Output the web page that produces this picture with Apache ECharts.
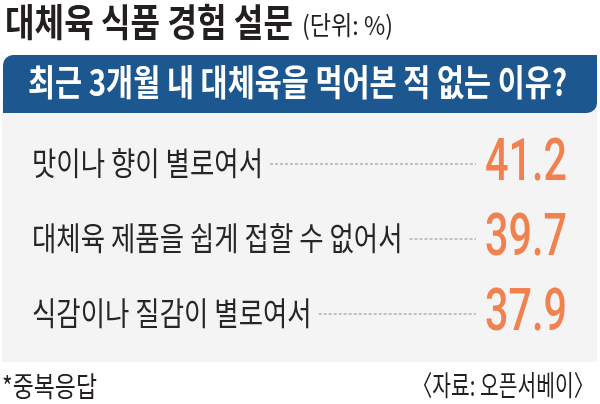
<!DOCTYPE html>
<html>
<head>
<meta charset="utf-8">
<script src="https://cdn.jsdelivr.net/npm/echarts@6/dist/echarts.min.js"></script>
<style>
  html, body { margin: 0; padding: 0; background: #fff; }
  #chart { width: 600px; height: 404px; }
</style>
</head>
<body>
<div id="chart"></div>
<script>
// 설문 데이터
const reasons = ['맛이나 향이 별로여서', '대체육 제품을 쉽게 접할 수 없어서', '식감이나 질감이 별로여서'];
const shares = [41.2, 39.7, 37.9];

const KR = "'Noto Sans CJK KR', 'Noto Sans', sans-serif";
const NUM = "Roboto, 'Liberation Sans', sans-serif";

// 글자 폭 측정용
const measureCtx = document.createElement('canvas').getContext('2d');
function textWidth(text, font) {
    measureCtx.font = font;
    return measureCtx.measureText(text).width;
}
// 원본처럼 좁은 글꼴 느낌을 내기 위해 가로 폭을 맞춘다
function fitScale(text, font, width) {
    return width / textWidth(text, font);
}

const titleFont = 'bold 38px ' + KR;
const unitFont = '26px ' + KR;
const bannerFont = 'bold 36px ' + KR;
const labelFont = '32px ' + KR;
const valueFont = '500 59px ' + NUM;
const footFont = '28px ' + KR;
// 첫 줄 폭 기준으로 가로 비율을 정해 모든 줄에 쓴다
const LABEL_SCALE = fitScale(reasons[0], labelFont, 231);
const VALUE_SCALE = 0.7;

function txt(text, font, x, y, fill, scale, align) {
    return {
        type: 'text',
        x: x, y: y,
        scaleX: scale, originX: 0, originY: 0,
        silent: true,
        style: {
            text: text, font: font, fill: fill,
            align: align || 'left', verticalAlign: 'middle',
            textAlign: align || 'left', textVerticalAlign: 'middle'
        }
    };
}

var myChart = echarts.init(document.getElementById('chart'));

var option = {
    backgroundColor: '#fff',
    animation: false,
    grid: { left: 32, right: 33, top: 125.5, height: 225 },
    xAxis: { type: 'value', min: 0, max: 50, show: false },
    yAxis: { type: 'category', data: reasons, inverse: true, show: false },
    graphic: [
        // 회색 바탕
        { type: 'rect', z: 0, shape: { x: 2, y: 100, width: 595, height: 262 }, style: { fill: '#f4f4f4' } },
        // 파란 띠
        { type: 'rect', z: 1, shape: { x: 3, y: 55, width: 594, height: 58, r: [10, 0, 10, 0] }, style: { fill: '#1c588f' } },
        Object.assign(txt('대체육 식품 경험 설문', titleFont, 5, 22, '#231f20',
            fitScale('대체육 식품 경험 설문', titleFont, 288)), { z: 2 }),
        Object.assign(txt('(단위: %)', unitFont, 302, 25, '#231f20',
            fitScale('(단위: %)', unitFont, 91)), { z: 2 }),
        Object.assign(txt('최근 3개월 내 대체육을 먹어본 적 없는 이유?', bannerFont, 28, 82, '#fff',
            fitScale('최근 3개월 내 대체육을 먹어본 적 없는 이유?', bannerFont, 539)), { z: 2 }),
        Object.assign(txt('*중복응답', footFont, 2, 386, '#231f20',
            fitScale('*중복응답', footFont, 95)), { z: 2 }),
        Object.assign(txt('〈자료: 오픈서베이〉', footFont, 594, 385, '#231f20',
            fitScale('〈자료: 오픈서베이〉', footFont, 182), 'right'), { z: 2 })
    ],
    series: [{
        type: 'custom',
        coordinateSystem: 'cartesian2d',
        data: shares.map(function (v, i) { return [v, i]; }),
        encode: { x: 0, y: 1 },
        z: 5,
        renderItem: function (params, api) {
            var idx = api.value(1);
            var y = api.coord([0, idx])[1];
            var left = params.coordSys.x;
            var right = params.coordSys.x + params.coordSys.width;
            var label = reasons[idx];
            var labelEnd = left + textWidth(label, labelFont) * LABEL_SCALE;
            return {
                type: 'group',
                children: [
                    txt(label, labelFont, left, y, '#262626', LABEL_SCALE),
                    {
                        type: 'line',
                        shape: { x1: labelEnd + 7, y1: y + 1, x2: right - 91, y2: y + 1 },
                        style: { stroke: '#8f8f8f', lineWidth: 1, lineDash: [3, 2] }
                    },
                    txt(api.value(0).toFixed(1), valueFont, right, y + 2, '#f1824f', VALUE_SCALE, 'right')
                ]
            };
        }
    }]
};

myChart.setOption(option);
</script>
</body>
</html>
